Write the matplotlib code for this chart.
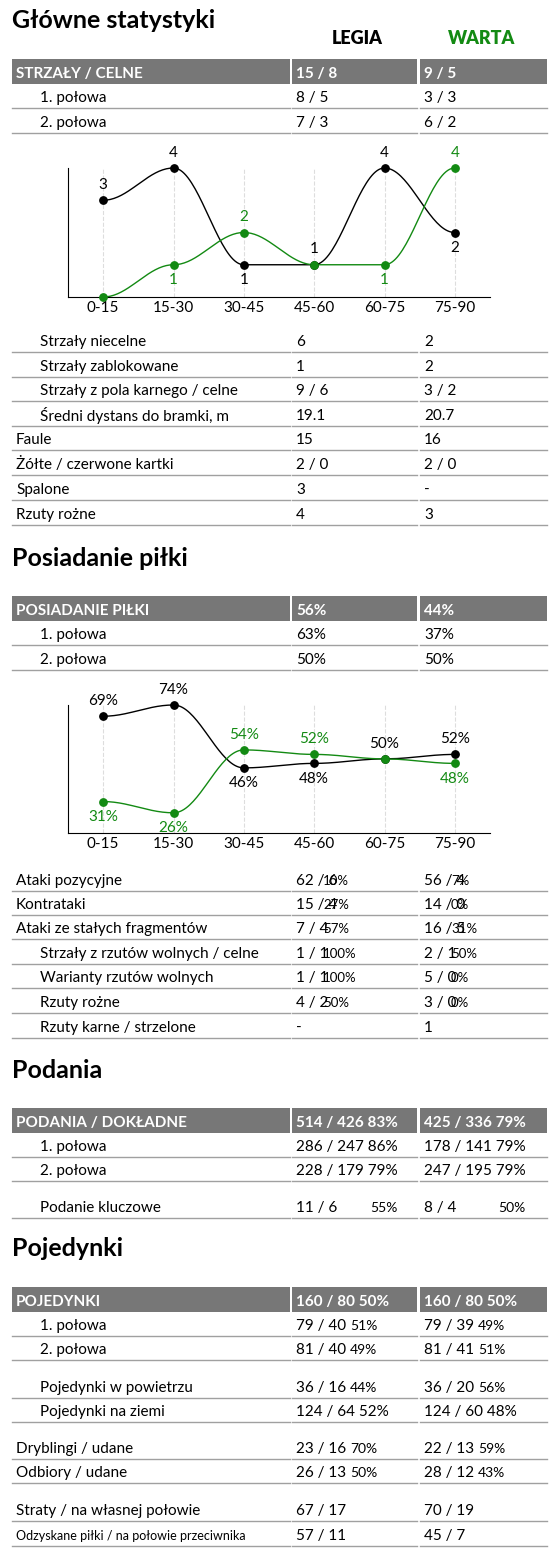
import numpy as np
import matplotlib.pyplot as plt

plt.rcParams['font.family'] = ['Lato', 'DejaVu Sans']

GREEN = "#138a13"
GRAY = "#777777"
LINE = "#a0a0a0"

periods = ["0-15", "15-30", "30-45", "45-60", "60-75", "75-90"]
shots_legia = [3, 4, 1, 1, 4, 2]
shots_warta = [0, 1, 2, 1, 1, 4]
poss_legia = [69, 74, 46, 48, 50, 52]
poss_warta = [31, 26, 54, 52, 50, 48]

# (label, legia, warta, indent, kind, y) ; kind: 'h' header bar, 'r' normal row
shots_rows = [
    ("STRZAŁY / CELNE", "15 / 8", "9 / 5", 0, "h", 73),
    ("1. połowa", "8 / 5", "3 / 3", 1, "r", 98),
    ("2. połowa", "7 / 3", "6 / 2", 1, "r", 123),
    ("Strzały niecelne", "6", "2", 1, "r", 342),
    ("Strzały zablokowane", "1", "2", 1, "r", 367),
    ("Strzały z pola karnego / celne", "9 / 6", "3 / 2", 1, "r", 391),
    ("Średni dystans do bramki, m", "19.1", "20.7", 1, "r", 416),
    ("Faule", "15", "16", 0, "r", 440),
    ("Żółte / czerwone kartki", "2 / 0", "2 / 0", 0, "r", 465),
    ("Spalone", "3", "-", 0, "r", 490),
    ("Rzuty rożne", "4", "3", 0, "r", 515),
]
poss_rows = [
    ("POSIADANIE PIŁKI", "56%", "44%", 0, "h", 610),
    ("1. połowa", "63%", "37%", 1, "r", 635),
    ("2. połowa", "50%", "50%", 1, "r", 660),
    ("Ataki pozycyjne", ("62 / 6", "10%"), ("56 / 4", "7%"), 0, "r", 881),
    ("Kontrataki", ("15 / 4", "27%"), ("14 / 0", "0%"), 0, "r", 905),
    ("Ataki ze stałych fragmentów", ("7 / 4", "57%"), ("16 / 5", "31%"), 0, "r", 929),
    ("Strzały z rzutów wolnych / celne", ("1 / 1", "100%"), ("2 / 1", "50%"), 1, "r", 954),
    ("Warianty rzutów wolnych", ("1 / 1", "100%"), ("5 / 0", "0%"), 1, "r", 978),
    ("Rzuty rożne", ("4 / 2", "50%"), ("3 / 0", "0%"), 1, "r", 1003),
    ("Rzuty karne / strzelone", "-", "1", 1, "r", 1028),
]
pass_rows = [
    ("PODANIA / DOKŁADNE", "514 / 426 83%", "425 / 336 79%", 0, "h", 1122),
    ("1. połowa", "286 / 247 86%", "178 / 141 79%", 1, "r", 1147),
    ("2. połowa", "228 / 179 79%", "247 / 195 79%", 1, "r", 1171),
    ("Podanie kluczowe", ("11 / 6", "55%"), ("8 / 4", "50%"), 1, "r", 1208),
]
duel_rows = [
    ("POJEDYNKI", "160 / 80 50%", "160 / 80 50%", 0, "h", 1301),
    ("1. połowa", ("79 / 40", "51%"), ("79 / 39", "49%"), 1, "r", 1326),
    ("2. połowa", ("81 / 40", "49%"), ("81 / 41", "51%"), 1, "r", 1350),
    ("Pojedynki w powietrzu", ("36 / 16", "44%"), ("36 / 20", "56%"), 1, "r", 1388),
    ("Pojedynki na ziemi", "124 / 64 52%", "124 / 60 48%", 1, "r", 1412),
    ("Dryblingi / udane", ("23 / 16", "70%"), ("22 / 13", "59%"), 0, "r", 1449),
    ("Odbiory / udane", ("26 / 13", "50%"), ("28 / 12", "43%"), 0, "r", 1473),
    ("Straty / na własnej połowie", "67 / 17", "70 / 19", 0, "r", 1511),
    ("Odzyskane piłki / na połowie przeciwnika", "57 / 11", "45 / 7", 0, "r", 1536),
]

W, H = 556, 1553
fig = plt.figure(figsize=(W / 100, H / 100), dpi=100)
ax = fig.add_axes([0, 0, 1, 1])
ax.set_xlim(0, W)
ax.set_ylim(H, 0)
ax.axis("off")

COLS = [(12, 290), (292, 417), (420, 547)]
FS = 11


def value(x, y, v, pct_dx, pfs):
    if isinstance(v, tuple):
        ax.text(x, y, v[0], fontsize=FS, va="center")
        ax.text(x + pct_dx, y, v[1], fontsize=pfs, va="center")
    else:
        ax.text(x, y, v, fontsize=FS, va="center")


def draw_rows(rows, pct_dx=27, pfs=9.5):
    for label, lv, wv, indent, kind, y in rows:
        if kind == "h":
            for x0, x1 in COLS:
                ax.add_patch(plt.Rectangle((x0, y - 14), x1 - x0, 25, color=GRAY, lw=0))
            ax.text(16, y + 1, label, fontsize=FS, va="center", color="white", fontweight="bold")
            ax.text(296, y + 1, lv, fontsize=FS, va="center", color="white", fontweight="bold")
            ax.text(424, y + 1, wv, fontsize=FS, va="center", color="white", fontweight="bold")
            continue
        fs = 9 if len(label) > 35 else FS
        ax.text(40 if indent else 16, y, label, fontsize=fs, va="center")
        dx = 74 if label == "Podanie kluczowe" else pct_dx
        value(296, y, lv, dx, pfs)
        value(424, y, wv, dx, pfs)
        for x0, x1 in COLS:
            ax.plot([x0, x1], [y + 10, y + 10], color=LINE, lw=1)


def smooth(xs, ys, n=40):
    px, py = [], []
    for i in range(len(xs) - 1):
        t = np.linspace(0, 1, n)
        s = (1 - np.cos(np.pi * t)) / 2
        px.extend(xs[i] + (xs[i + 1] - xs[i]) * t)
        py.extend(ys[i] + (ys[i + 1] - ys[i]) * s)
    return px, py


def chart(rect, legia, warta, ylim, fmt, labels_l, labels_w):
    cax = fig.add_axes(rect)
    xs = np.arange(len(periods))
    for x in xs:
        cax.axvline(x, color="#dddddd", lw=0.8, ls="--", zorder=0)
    for data, col in ((legia, "black"), (warta, GREEN)):
        px, py = smooth(xs, data)
        cax.plot(px, py, color=col, lw=1, clip_on=False)
        cax.scatter(xs, data, s=28, color=col, zorder=3, clip_on=False)
    off = (ylim[1] - ylim[0]) * 0.12
    for data, pos, col in ((legia, labels_l, "black"), (warta, labels_w, GREEN)):
        for x, v, p in zip(xs, data, pos):
            if p == 0:
                continue
            cax.text(x, v + p * off, fmt(v), ha="center", va="center", fontsize=FS, color=col)
    cax.set_xlim(-0.5, 5.5)
    cax.set_ylim(*ylim)
    cax.set_xticks(xs)
    cax.set_xticklabels(periods, fontsize=FS)
    cax.tick_params(length=0, pad=3)
    cax.set_yticks([])
    for s in ("top", "right"):
        cax.spines[s].set_visible(False)
    cax.patch.set_alpha(0)


ax.text(12, 20, "Główne statystyki", fontsize=18, fontweight="bold", va="center")
ax.text(357, 38, "LEGIA", fontsize=13, fontweight="heavy", va="center", ha="center")
ax.text(482, 38, "WARTA", fontsize=13, fontweight="heavy", va="center", ha="center", color=GREEN)
draw_rows(shots_rows)
chart([68 / W, 1 - 297 / H, 422 / W, 129 / H], shots_legia, shots_warta, (0, 4),
      lambda v: str(v), [1, 1, -1, 1, 1, -1], [0, -1, 1, 0, -1, 1])

ax.text(12, 558, "Posiadanie piłki", fontsize=18, fontweight="bold", va="center")
draw_rows(poss_rows)
chart([68 / W, 1 - 833 / H, 422 / W, 128 / H], poss_legia, poss_warta, (17, 74),
      lambda v: f"{v}%", [1, 1, -1, -1, 1, 1], [-1, -1, 1, 1, 0, -1])

ax.text(12, 1070, "Podania", fontsize=18, fontweight="bold", va="center")
draw_rows(pass_rows, pfs=10)
ax.text(12, 1249, "Pojedynki", fontsize=18, fontweight="bold", va="center")
draw_rows(duel_rows, pct_dx=54, pfs=10)

fig.savefig("out.png", dpi=100)
